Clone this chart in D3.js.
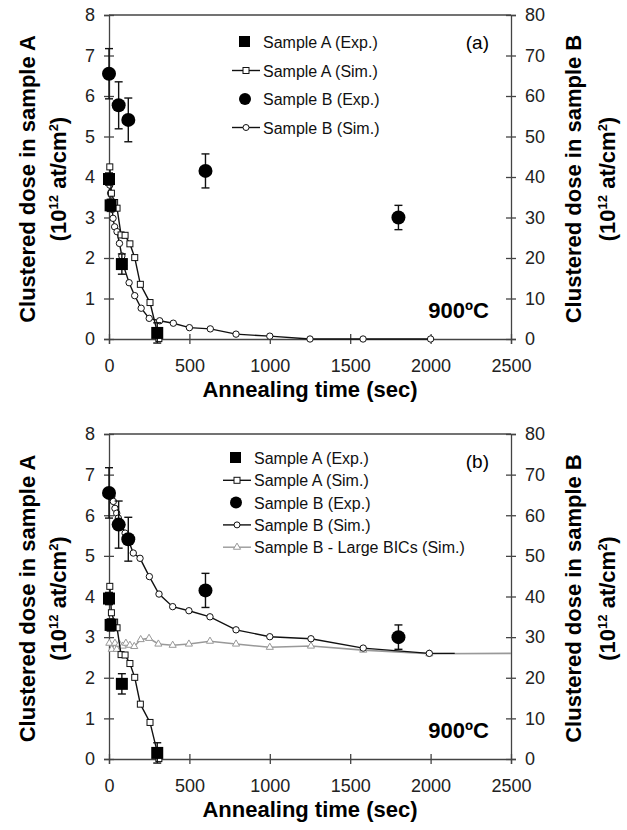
<!DOCTYPE html>
<html>
<head>
<meta charset="utf-8">
<script src="https://cdn.jsdelivr.net/npm/d3@7"></script>
<style>
  body { margin: 0; background: #fff; }
  text { font-family: "Liberation Sans", Arial, sans-serif; }
</style>
</head>
<body>
<script>
// Axis ticks
const xTicks = [0, 500, 1000, 1500, 2000, 2500];
const leftTicks = [0, 1, 2, 3, 4, 5, 6, 7, 8];
const rightTicks = [0, 10, 20, 30, 40, 50, 60, 70, 80];

// Sample A experimental (left axis)
const aExpTime = [0, 10, 80, 300];
const aExpDose = [3.95, 3.3, 1.85, 0.15];
const aExpErr = [0.15, 0.15, 0.25, 0.25];

// Sample B experimental (right axis)
const bExpTime = [0, 60, 120, 600, 1800];
const bExpDose = [65.5, 57.7, 54.1, 41.5, 30.0];
const bExpErr = [6.2, 5.8, 5.4, 4.2, 3.0];

// Sample A simulation (left axis)
const aSimTime = [5, 10, 15, 35, 50, 75, 100, 130, 160, 195, 255, 310];
const aSimDose = [4.25, 3.95, 3.6, 3.37, 3.23, 2.57, 2.56, 2.35, 2.01, 1.35, 0.9, 0.01];

// Sample B simulation, panel (a) (right axis)
const bSimTimeA = [0, 5, 10, 15, 20, 25, 35, 50, 65, 80, 90, 125, 160, 200, 250, 315, 400, 500, 630, 790, 1000, 1250, 1580, 2000];
const bSimDoseA = [39.3, 38, 36, 33.1, 32, 29.8, 27.7, 26.5, 23.6, 20.5, 18.1, 13.9, 10.7, 7.6, 5.1, 4.5, 3.9, 2.8, 2.5, 1.2, 0.7, 0, 0, 0];

// Sample B simulation, panel (b) (right axis)
const bSimTimeB = [2, 17, 27, 37, 48, 58, 79, 100, 124, 151, 193, 251, 311, 396, 497, 628, 790, 1000, 1256, 1581, 1992, 2150];
const bSimDoseB = [65.4, 64.6, 63.4, 61.7, 60.5, 59.3, 57.6, 55.6, 53.5, 50.7, 49.4, 44.9, 40.6, 37.5, 36.5, 35.0, 31.8, 30.1, 29.6, 27.3, 26.0, 26.0];

// Sample B large BICs simulation, panel (b) (right axis)
const bicTime = [2, 17, 37, 48, 64, 85, 105, 130, 157, 197, 249, 307, 396, 497, 628, 790, 1000, 1256, 1581, 1992, 2500];
const bicDose = [28.5, 27, 28.5, 27, 28.3, 27.8, 28.5, 28, 27.7, 29.4, 29.7, 28.3, 28, 28.3, 29, 28.3, 27.5, 27.8, 26.8, 25.9, 26.0];

const width = 627, height = 830;
const svg = d3.select("body").append("svg")
    .attr("width", width)
    .attr("height", height);

const x = d3.scaleLinear().domain([0, 2500]).range([109, 511]);
const axisColor = "#444";
const titleSize = "22px";

function addUnitTitle(g, cx, cy) {
  const t = g.append("text")
      .attr("transform", "translate(" + cx + "," + cy + ") rotate(-90)")
      .attr("text-anchor", "middle")
      .style("font-size", titleSize).style("font-weight", "bold");
  t.append("tspan").text("(10");
  t.append("tspan").attr("dy", -8).style("font-size", "13px").text("12");
  t.append("tspan").attr("dy", 8).text(" at/cm");
  t.append("tspan").attr("dy", -8).style("font-size", "13px").text("2");
  t.append("tspan").attr("dy", 8).text(")");
}

function drawPanel(top, bottom, label, showBic, bTime, bDose, legendX, legendY, legendGap) {
  const yL = d3.scaleLinear().domain([0, 8]).range([bottom, top]);
  const yR = d3.scaleLinear().domain([0, 80]).range([bottom, top]);
  const g = svg.append("g");

  // frame top line
  g.append("line")
      .attr("x1", x(0)).attr("x2", x(2500))
      .attr("y1", top).attr("y2", top)
      .attr("stroke", axisColor).attr("stroke-width", 1.3);

  // axes with crossing ticks
  const xAxis = g.append("g")
      .attr("transform", "translate(0," + bottom + ")")
      .call(d3.axisBottom(x).tickValues(xTicks).tickFormat(d3.format("d")).tickSize(5).tickPadding(15));
  xAxis.selectAll(".tick line").attr("y1", -5);

  const lAxis = g.append("g")
      .attr("transform", "translate(" + x(0) + ",0)")
      .call(d3.axisLeft(yL).tickValues(leftTicks).tickSize(5).tickPadding(9));
  lAxis.selectAll(".tick line").attr("x1", 5);

  const rAxis = g.append("g")
      .attr("transform", "translate(" + x(2500) + ",0)")
      .call(d3.axisRight(yR).tickValues(rightTicks).tickSize(5).tickPadding(9));
  rAxis.selectAll(".tick line").attr("x1", -5);

  [xAxis, lAxis, rAxis].forEach(a => {
    a.select(".domain").attr("stroke", axisColor).attr("stroke-width", 1.3);
    a.selectAll(".tick line").attr("stroke", axisColor).attr("stroke-width", 1.3);
    a.selectAll(".tick text")
        .attr("fill", "#222")
        .style("font-size", "18px")
        .style("font-family", "'Liberation Sans', Arial, sans-serif");
  });

  // axis titles
  const midY = (top + bottom) / 2 + 2;
  g.append("text")
      .attr("transform", "translate(35," + midY + ") rotate(-90)")
      .attr("text-anchor", "middle")
      .style("font-size", titleSize).style("font-weight", "bold")
      .text("Clustered dose in sample A");
  addUnitTitle(g, 66, midY);

  g.append("text")
      .attr("transform", "translate(581," + midY + ") rotate(-90)")
      .attr("text-anchor", "middle")
      .style("font-size", titleSize).style("font-weight", "bold")
      .text("Clustered dose in sample B");
  addUnitTitle(g, 615, midY);

  g.append("text")
      .attr("x", 310).attr("y", bottom + 58)
      .attr("text-anchor", "middle")
      .style("font-size", titleSize).style("font-weight", "bold")
      .text("Annealing time (sec)");

  g.append("text")
      .attr("x", 489).attr("y", top + 34)
      .attr("text-anchor", "end")
      .style("font-size", "19px")
      .text(label);
  g.append("text")
      .attr("x", 489).attr("y", bottom - 21)
      .attr("text-anchor", "end")
      .style("font-size", "22px").style("font-weight", "bold")
      .text("900ºC");

  // simulation lines
  const lineL = d3.line().x(d => x(d[0])).y(d => yL(d[1]));
  const lineR = d3.line().x(d => x(d[0])).y(d => yR(d[1]));

  if (showBic) {
    const bic = d3.zip(bicTime, bicDose);
    g.append("path").datum(bic)
        .attr("d", lineR).attr("fill", "none")
        .attr("stroke", "#999").attr("stroke-width", 1.6);
    g.selectAll(".bic").data(bic.slice(0, -1)).enter()
      .append("path")
        .attr("transform", d => "translate(" + x(d[0]) + "," + yR(d[1]) + ")")
        .attr("d", d3.symbol(d3.symbolTriangle, 22))
        .attr("fill", "#fff").attr("stroke", "#999").attr("stroke-width", 1);
  }

  const bSim = d3.zip(bTime, bDose);
  g.append("path").datum(bSim)
      .attr("d", lineR).attr("fill", "none")
      .attr("stroke", "#111").attr("stroke-width", 1.4);
  g.selectAll(".bsim").data(showBic ? bSim.slice(0, -1) : bSim).enter()
    .append("circle")
      .attr("cx", d => x(d[0])).attr("cy", d => yR(d[1])).attr("r", 3.2)
      .attr("fill", "#fff").attr("stroke", "#111").attr("stroke-width", 1);

  const aSim = d3.zip(aSimTime, aSimDose);
  g.append("path").datum(aSim)
      .attr("d", lineL).attr("fill", "none")
      .attr("stroke", "#111").attr("stroke-width", 1.4);
  g.selectAll(".asim").data(aSim).enter()
    .append("rect")
      .attr("x", d => x(d[0]) - 3).attr("y", d => yL(d[1]) - 3)
      .attr("width", 6).attr("height", 6)
      .attr("fill", "#fff").attr("stroke", "#111").attr("stroke-width", 1);

  // experimental points with error bars
  function errBars(tArr, vArr, eArr, y) {
    tArr.forEach((t, i) => {
      const cx = x(t);
      const y1 = y(vArr[i] + eArr[i]), y2 = y(vArr[i] - eArr[i]);
      g.append("line").attr("x1", cx).attr("x2", cx).attr("y1", y1).attr("y2", y2)
          .attr("stroke", "#111").attr("stroke-width", 1.4);
      [y1, y2].forEach(yy => g.append("line")
          .attr("x1", cx - 4).attr("x2", cx + 4).attr("y1", yy).attr("y2", yy)
          .attr("stroke", "#111").attr("stroke-width", 1.4));
    });
  }
  errBars(aExpTime, aExpDose, aExpErr, yL);
  errBars(bExpTime, bExpDose, bExpErr, yR);

  g.selectAll(".aexp").data(d3.zip(aExpTime, aExpDose)).enter()
    .append("rect")
      .attr("x", d => x(d[0]) - 6).attr("y", d => yL(d[1]) - 6)
      .attr("width", 12).attr("height", 12)
      .attr("fill", "#000");
  g.selectAll(".bexp").data(d3.zip(bExpTime, bExpDose)).enter()
    .append("circle")
      .attr("cx", d => x(d[0])).attr("cy", d => yR(d[1])).attr("r", 7)
      .attr("fill", "#000");

  // legend
  const items = [
    {name: "Sample A (Exp.)", type: "aexp"},
    {name: "Sample A (Sim.)", type: "asim"},
    {name: "Sample B (Exp.)", type: "bexp"},
    {name: "Sample B (Sim.)", type: "bsim"}
  ];
  if (showBic) items.push({name: "Sample B - Large BICs (Sim.)", type: "bic"});
  items.forEach((it, i) => {
    const ly = legendY + i * legendGap;
    const lg = g.append("g").attr("transform", "translate(" + legendX + "," + ly + ")");
    const col = it.type == "bic" ? "#999" : "#111";
    if (it.type == "asim" || it.type == "bsim" || it.type == "bic") {
      lg.append("line").attr("x1", -31).attr("x2", -3).attr("y1", 0).attr("y2", 0)
          .attr("stroke", col).attr("stroke-width", 1.4);
    }
    if (it.type == "aexp") lg.append("rect").attr("x", -24).attr("y", -6).attr("width", 11).attr("height", 11).attr("fill", "#000");
    if (it.type == "bexp") lg.append("circle").attr("cx", -18).attr("cy", 0).attr("r", 6).attr("fill", "#000");
    if (it.type == "asim") lg.append("rect").attr("x", -20).attr("y", -3).attr("width", 6).attr("height", 6)
        .attr("fill", "#fff").attr("stroke", "#111");
    if (it.type == "bsim") lg.append("circle").attr("cx", -17).attr("cy", 0).attr("r", 3)
        .attr("fill", "#fff").attr("stroke", "#111");
    if (it.type == "bic") lg.append("path").attr("transform", "translate(-17,0)")
        .attr("d", d3.symbol(d3.symbolTriangle, 22)).attr("fill", "#fff").attr("stroke", "#999");
    lg.append("text").attr("x", 0).attr("y", 6)
        .style("font-size", "16px").attr("fill", "#111")
        .text(it.name);
  });
}

drawPanel(15, 339, "(a)", false, bSimTimeA, bSimDoseA, 263, 42, 28.5);
drawPanel(434, 759, "(b)", true, bSimTimeB, bSimDoseB, 254, 458, 22.3);
</script>
</body>
</html>
